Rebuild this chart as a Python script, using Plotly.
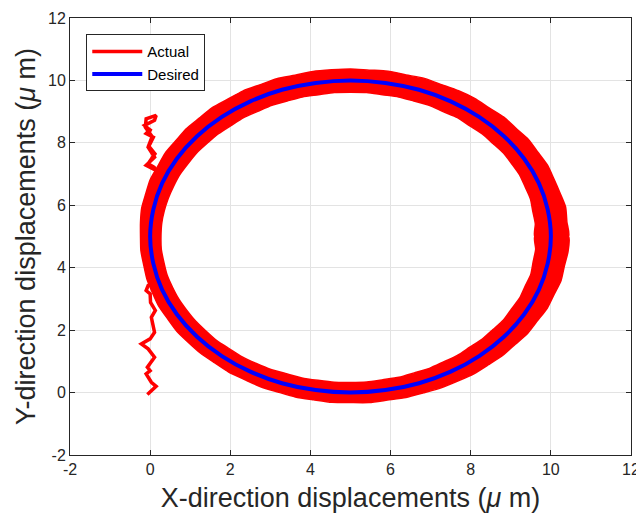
import numpy as np
import plotly.graph_objects as go

# ---------------- data ----------------
# Desired circular trajectory (um)
desired_x = [10.00, 9.92, 9.70, 9.33, 8.83, 8.21, 7.50, 6.71, 5.87, 5.00, 4.13, 3.29, 2.50,
             1.79, 1.17, 0.67, 0.30, 0.08, 0.00, 0.08, 0.30, 0.67, 1.17, 1.79, 2.50, 3.29,
             4.13, 5.00, 5.87, 6.71, 7.50, 8.21, 8.83, 9.33, 9.70, 9.92, 10.00]
desired_y = [5.00, 5.87, 6.71, 7.50, 8.21, 8.83, 9.33, 9.70, 9.92, 10.00, 9.92, 9.70, 9.33,
             8.83, 8.21, 7.50, 6.71, 5.87, 5.00, 4.13, 3.29, 2.50, 1.79, 1.17, 0.67, 0.30,
             0.08, 0.00, 0.08, 0.30, 0.67, 1.17, 1.79, 2.50, 3.29, 4.13, 5.00]

# Actual: initial approach path from the origin (um)
approach_x = [-0.07, 0.15, 0.03, -0.10, 0.00, -0.07, 0.11, 0.07, -0.05, -0.22, 0.00, 0.11,
              0.07, 0.03, 0.13, 0.01, 0.00, -0.10, -0.05, 0.05, 0.10, 0.02, 0.12, 0.05,
              0.15, -0.10, 0.11, -0.05, 0.00, 0.08, -0.10, 0.02, 0.00, -0.14, 0.11, 0.15,
              -0.10, -0.12, 0.05, -0.04, 0.12, -0.05, 0.10, 0.18]
approach_y = [-0.06, 0.20, 0.33, 0.60, 0.70, 0.81, 1.13, 1.19, 1.40, 1.56, 1.72, 1.93,
              2.15, 2.41, 2.63, 2.89, 3.16, 3.27, 3.43, 3.50, 4.00, 4.80, 5.60, 6.40,
              7.12, 7.28, 7.54, 7.86, 7.97, 8.18, 8.30, 8.45, 8.40, 8.56, 8.72, 8.88,
              8.77, 8.50, 8.20, 7.90, 7.65, 7.33, 7.22, 7.05]

# Actual: tracking band around the circle, radial extent read at 5 deg steps
band_angle_deg = list(range(0, 360, 5))
band_outer = [0.44, 0.42, 0.45, 0.41, 0.40, 0.42, 0.40, 0.42, 0.39, 0.41, 0.38, 0.40,
              0.39, 0.37, 0.39, 0.36, 0.38, 0.35, 0.37, 0.36, 0.37, 0.35, 0.38, 0.36,
              0.38, 0.36, 0.38, 0.35, 0.36, 0.33, 0.34, 0.31, 0.32, 0.29, 0.29, 0.26,
              0.24, 0.25, 0.24, 0.26, 0.26, 0.28, 0.27, 0.29, 0.28, 0.29, 0.28, 0.30,
              0.29, 0.31, 0.30, 0.32, 0.31, 0.33, 0.32, 0.34, 0.32, 0.34, 0.33, 0.35,
              0.35, 0.37, 0.36, 0.38, 0.37, 0.40, 0.39, 0.42, 0.41, 0.44, 0.42, 0.45]
band_inner = [0.40, 0.37, 0.38, 0.35, 0.36, 0.34, 0.35, 0.34, 0.36, 0.35, 0.37, 0.35,
              0.38, 0.36, 0.38, 0.37, 0.39, 0.37, 0.38, 0.37, 0.39, 0.37, 0.38, 0.36,
              0.37, 0.35, 0.36, 0.34, 0.34, 0.32, 0.32, 0.30, 0.30, 0.29, 0.28, 0.27,
              0.27, 0.26, 0.27, 0.26, 0.27, 0.27, 0.28, 0.28, 0.29, 0.28, 0.30, 0.29,
              0.30, 0.30, 0.32, 0.31, 0.32, 0.31, 0.32, 0.32, 0.34, 0.33, 0.35, 0.34,
              0.36, 0.35, 0.37, 0.35, 0.36, 0.34, 0.36, 0.34, 0.36, 0.34, 0.37, 0.36]
circle_center = (5.0, 5.0)
circle_radius = 5.0

tick_vals = [-2, 0, 2, 4, 6, 8, 10, 12]
tick_text = ["-2", "0", "2", "4", "6", "8", "10", "12"]

# ---------------- build band polygon ----------------
ang = np.deg2rad(np.array(band_angle_deg + [360]))
ro = circle_radius + np.array(band_outer + [band_outer[0]])
ri = circle_radius - np.array(band_inner + [band_inner[0]])
cx, cy = circle_center
ox = cx + ro * np.cos(ang)
oy = cy + ro * np.sin(ang)
ix = (cx + ri * np.cos(ang))[::-1]
iy = (cy + ri * np.sin(ang))[::-1]
band_x = np.concatenate([ox, ix, ox[:1]])
band_y = np.concatenate([oy, iy, oy[:1]])

RED = "#FF0000"
BLUE = "#0000FF"
AX = "#262626"
FONT = "Liberation Sans, Arial, sans-serif"

fig = go.Figure()
fig.add_trace(go.Scatter(x=band_x, y=band_y, mode="lines", fill="toself",
                         fillcolor=RED, line=dict(color=RED, width=1.5, shape="spline", smoothing=0.6),
                         showlegend=False, legendgroup="a", hoverinfo="skip"))
fig.add_trace(go.Scatter(x=approach_x, y=approach_y, mode="lines", name="Actual",
                         line=dict(color=RED, width=3.5), legendgroup="a"))
fig.add_trace(go.Scatter(x=desired_x, y=desired_y, mode="lines", name="Desired",
                         line=dict(color=BLUE, width=4, shape="spline")))

axis_common = dict(range=[-2, 12], tickvals=tick_vals, ticktext=tick_text,
                   ticks="inside", ticklen=5, automargin=False,
                   tickcolor=AX, showline=True, linecolor=AX, linewidth=1,
                   mirror="ticks", showgrid=True, gridcolor="#E3E3E3", gridwidth=1,
                   zeroline=False, tickfont=dict(size=16, color=AX, family=FONT))

# page body adds an 8 px offset at top-left, so the figure is drawn 8 px smaller
fig.update_layout(
    width=636, height=512,
    margin=dict(l=62, r=13, t=10, b=65, autoexpand=False),
    paper_bgcolor="white", plot_bgcolor="white",
    font=dict(family=FONT, color=AX),
    xaxis=dict(title=dict(text="X-direction displacements (<i>μ</i> m)",
                          font=dict(size=27, color=AX), standoff=10), **axis_common),
    yaxis=dict(title=dict(text="Y-direction displacements (<i>μ</i> m)",
                          font=dict(size=27, color=AX), standoff=4), **axis_common),
    legend=dict(x=0.029, y=0.963, xanchor="left", yanchor="top",
                bgcolor="white", bordercolor=AX, borderwidth=1,
                font=dict(size=15, color="black"), itemwidth=50,
                traceorder="normal"),
    showlegend=True,
)

fig.write_html("out.html")
